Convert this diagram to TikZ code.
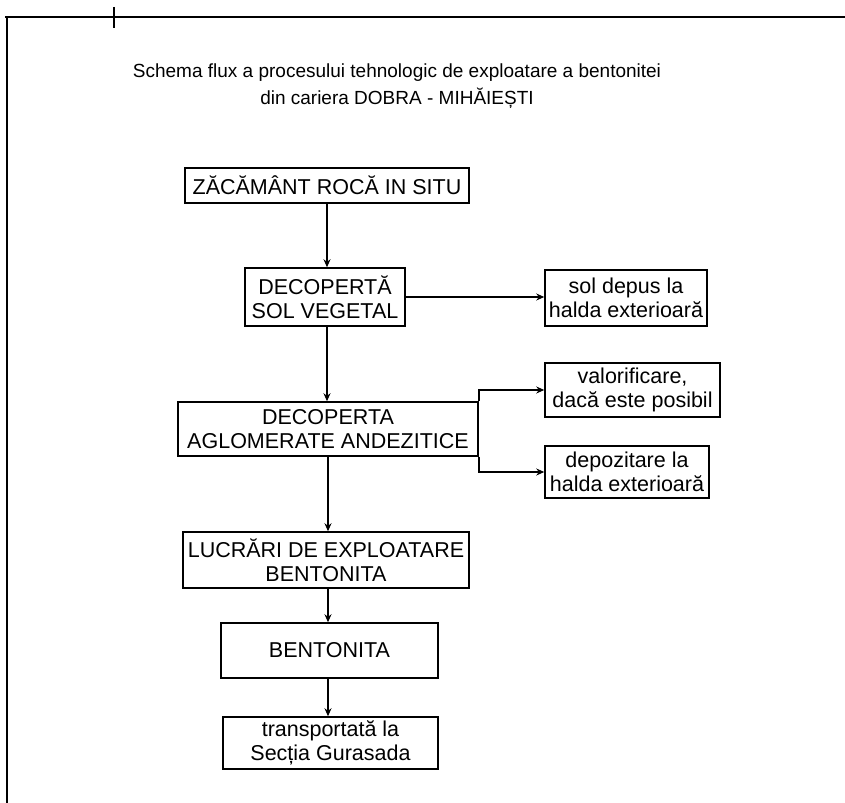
\documentclass[tikz,border=0pt]{standalone}
\usepackage{fontspec}
\setmainfont{Liberation Sans}
\usetikzlibrary{arrows.meta}
\begin{document}
\begin{tikzpicture}[x=1bp,y=-1bp,
  box/.style={draw,line width=1.5bp,inner sep=0pt,align=center,
    font=\fontsize{21.5bp}{24bp}\selectfont},
  arr/.style={line width=1.5bp,-{Stealth[length=8bp,width=7bp]}},
  frameline/.style={line width=1.7bp}]
\useasboundingbox (0,0) rectangle (845,803);
% frame
\coordinate (ftl) at (7,17);
\coordinate (ftr) at (845,17);
\coordinate (fl0) at (5,17);
\coordinate (fbl) at (7,803);
\coordinate (tk1) at (114,7);
\coordinate (tk2) at (114,28);
\draw[frameline] (fl0) -- (ftr);
\draw[frameline] (ftl) -- (fbl);
\draw[line width=1.4bp] (tk1) -- (tk2);
% title
\node[align=center,font=\fontsize{19bp}{27bp}\selectfont] (title) at (397,86)
  {Schema flux a procesului tehnologic de exploatare a bentonitei\\din cariera DOBRA - MIHĂIEȘTI};
% boxes
\node[box,minimum width=284bp,minimum height=35bp] (b1) at (327,185.5) {ZĂCĂMÂNT ROCĂ IN SITU};
\node[box,minimum width=160bp,minimum height=58bp] (b2) at (325,297) {DECOPERTĂ\\SOL VEGETAL};
\node[box,minimum width=162bp,minimum height=56bp] (sol) at (626,298) {sol depus la\\halda exterioară};
\node[box,minimum width=300bp,minimum height=54bp] (b3) at (328,429) {DECOPERTA\\AGLOMERATE ANDEZITICE};
\node[box,minimum width=175bp,minimum height=54bp] (val) at (632.5,390) {valorificare,\\dacă este posibil};
\node[box,minimum width=164bp,minimum height=52bp] (dep) at (627,472) {depozitare la\\halda exterioară};
\node[box,minimum width=286bp,minimum height=56bp] (b4) at (326,560) {LUCRĂRI DE EXPLOATARE\\BENTONITA};
\node[box,minimum width=217bp,minimum height=55bp] (b5) at (329.5,650.5) {BENTONITA};
\node[box,minimum width=215bp,minimum height=52bp] (b6) at (330.5,743) {transportată la\\Secția Gurasada};
% connectors
\draw[arr] (b1.south) -- (b1.south |- b2.north);
\draw[arr] (b2.east) -- (sol.west |- b2.east);
\draw[arr] (b2.south -| b1.south) -- (b1.south |- b3.north);
\draw[arr] (b3.north east) |- (val.west);
\draw[arr] (b3.south east) |- (dep.west);
\draw[arr] (b3.south) -- (b3.south |- b4.north);
\draw[arr] (b4.south -| b3.south) -- (b3.south |- b5.north);
\draw[arr] (b5.south -| b3.south) -- (b3.south |- b6.north);
\end{tikzpicture}
\end{document}
